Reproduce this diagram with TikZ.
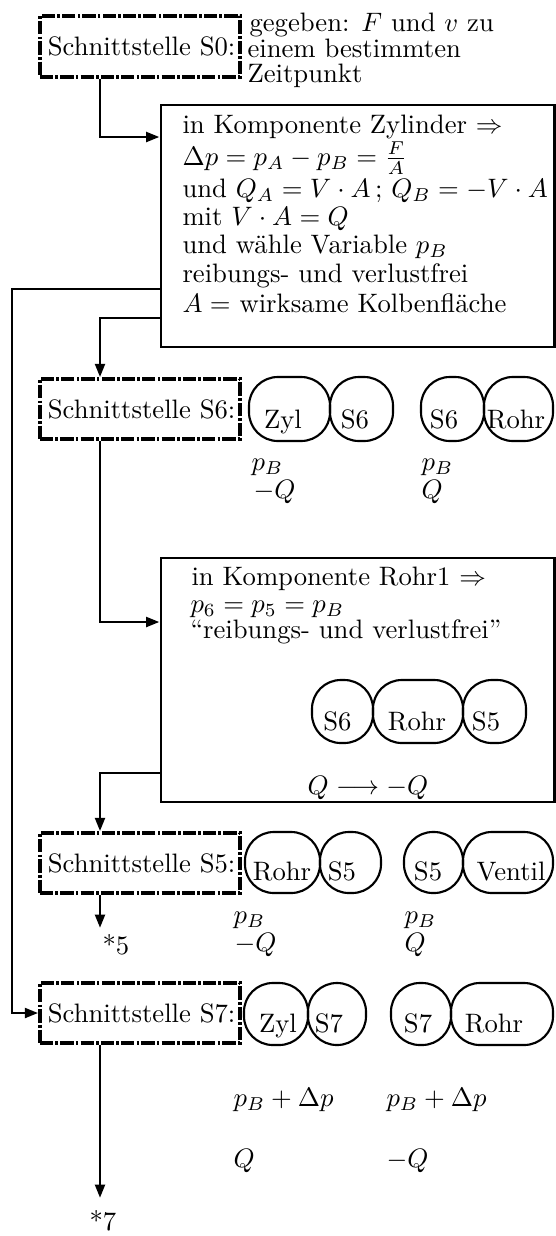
\documentclass[tikz,border=0pt]{standalone}
\usetikzlibrary{arrows.meta,fit}
\begin{document}
\begin{tikzpicture}[x=0.375pt,y=-0.375pt,
  sbox/.style={draw, line width=1.3pt, dash pattern=on 5pt off 0.8pt on 1pt off 0.8pt, inner sep=0pt},
  cbox/.style={draw, line width=1.1pt, inner sep=0pt},
  oval/.style={draw, line width=0.8pt, rounded corners=10.8pt, inner sep=0pt},
  conn/.style={line width=1.1pt},
  arr/.style={conn, -{Triangle[length=5pt,width=3.6pt]}},
  txt/.style={anchor=base west, inner sep=0pt},
  otxt/.style={anchor=base, inner sep=0pt},
  stxt/.style={inner sep=0pt},
]
\useasboundingbox (0,0) rectangle (556,1236);

% ---- Schnittstelle boxes
\node[sbox, fit={(40,16) (240,77)}] (s0) {};
\node[stxt] (s0t) at ([xshift=0.6pt]s0.center) {Schnittstelle S0:};
\node[sbox, fit={(40,379) (240,439)}] (s6) {};
\node[stxt] (s6t) at ([xshift=0.6pt]s6.center) {Schnittstelle S6:};
\node[sbox, fit={(40,833) (240,893)}] (s5) {};
\node[stxt] (s5t) at ([xshift=0.6pt]s5.center) {Schnittstelle S5:};
\node[sbox, fit={(40,983) (240,1043)}] (s7) {};
\node[stxt] (s7t) at ([xshift=0.6pt]s7.center) {Schnittstelle S7:};

% ---- S0 text
\node[txt] (g1) at (249,31) {gegeben: $F$ und $v$ zu};
\node[txt] (g2) at (247,57) {einem bestimmten};
\node[txt] (g3) at (247,82) {Zeitpunkt};

% ---- Zylinder box
\node[cbox, fit={(161,105) (554.5,347)}] (zyl) {};
\node[txt] (z1) at (182,133) {in Komponente Zylinder $\Rightarrow$};
\node[txt] (z2) at (182,165) {$\Delta p = p_A - p_B = \frac{F}{A}$};
\node[txt] (z3) at (182,197) {und $Q_A = V\cdot A$\,; $Q_B = -V\cdot A$};
\node[txt] (z4) at (182,225) {mit $V\cdot A = Q$};
\node[txt] (z5) at (182,253) {und w\"ahle Variable $p_B$};
\node[txt] (z6) at (182,282) {reibungs- und verlustfrei};
\node[txt] (z7) at (182,312) {$A =$ wirksame Kolbenfl\"ache};

% ---- S6 row
\node[oval, fit={(249,377) (330,441)}] (zylA) {};
\node[oval, fit={(330,377) (393,441)}] (s6a) {};
\node[oval, fit={(421,377) (484,441)}] (s6b) {};
\node[oval, fit={(484,377) (553,441)}] (rohrA) {};
\node[otxt] (zylAt) at (283,428) {Zyl};
\node[otxt] (s6at) at (355,428) {S6};
\node[otxt] (s6bt) at (444,428) {S6};
\node[otxt] (rohrAt) at (516,428) {Rohr};
\node[txt] (l6a) at (251,470) {$p_B$};
\node[txt] (l6b) at (253,498) {$-Q$};
\node[txt] (l6c) at (421,470) {$p_B$};
\node[txt] (l6d) at (421,498) {$Q$};

% ---- Rohr1 box
\node[cbox, fit={(161,558) (554.5,802)}] (rohr1) {};
\node[txt] (r1) at (191,585) {in Komponente Rohr1 $\Rightarrow$};
\node[txt] (r2) at (190,612) {$p_6 = p_5 = p_B$};
\node[txt] (r3) at (190,638) {``reibungs- und verlustfrei''};
\node[oval, fit={(312,680) (373,743)}] (rs6) {};
\node[oval, fit={(373,680) (463,743)}] (rrohr) {};
\node[oval, fit={(463,680) (526,743)}] (rs5) {};
\node[otxt] (rs6t) at (337.5,730) {S6};
\node[otxt] (rrohrt) at (417,730) {Rohr};
\node[otxt] (rs5t) at (486,730) {S5};
\node[txt] (rq) at (307,794) {$Q \longrightarrow -Q$};

% ---- S5 row
\node[oval, fit={(245,832) (320,893)}] (rohrB) {};
\node[oval, fit={(320,832) (381,893)}] (s5a) {};
\node[oval, fit={(404,832) (463,893)}] (s5b) {};
\node[oval, fit={(463,832) (553,893)}] (ventil) {};
\node[otxt] (rohrBt) at (282,880) {Rohr};
\node[otxt] (s5at) at (342,880) {S5};
\node[otxt] (s5bt) at (428,880) {S5};
\node[otxt] (ventilt) at (511,880) {Ventil};
\node[txt] (l5a) at (233,923) {$p_B$};
\node[txt] (l5b) at (234,951) {$-Q$};
\node[txt] (l5c) at (404,923) {$p_B$};
\node[txt] (l5d) at (404,951) {$Q$};

% ---- S7 row
\node[oval, fit={(244,983) (308,1045)}] (zylC) {};
\node[oval, fit={(308,983) (366,1045)}] (s7a) {};
\node[oval, fit={(391,983) (451,1045)}] (s7b) {};
\node[oval, fit={(451,983) (553,1045)}] (rohrC) {};
\node[otxt] (zylCt) at (278,1032) {Zyl};
\node[otxt] (s7at) at (329,1032) {S7};
\node[otxt] (s7bt) at (418,1032) {S7};
\node[otxt] (rohrCt) at (494,1032) {Rohr};
\node[txt] (l7a) at (233,1106) {$p_B + \Delta p$};
\node[txt] (l7b) at (386,1106) {$p_B + \Delta p$};
\node[txt] (l7c) at (233,1167) {$Q$};
\node[txt] (l7d) at (386,1167) {$-Q$};

% ---- end labels
\node[txt] (st5) at (102,954) {*5};
\node[txt] (st7) at (89,1230) {*7};

% ---- connectors
\coordinate (a1) at (100,137);
\coordinate (a2) at (100,318);
\coordinate (a3) at (12,289);
\coordinate (a4) at (100,622);
\coordinate (a5) at (100,773);
\coordinate (e5) at (100,928);
\coordinate (e7) at (100,1198);
\draw[arr] (s0.south -| a1) |- (zyl.west |- a1);
\draw[arr] (zyl.west |- a2) -| (s6.north -| a2);
\draw[arr] (zyl.west |- a3) -- (a3) |- (s7.west);
\draw[arr] (s6.south -| a4) |- (rohr1.west |- a4);
\draw[arr] (rohr1.west |- a5) -| (s5.north -| a5);
\draw[arr] (s5.south -| e5) -- (e5);
\draw[arr] (s7.south -| e7) -- (e7);
\end{tikzpicture}
\end{document}
